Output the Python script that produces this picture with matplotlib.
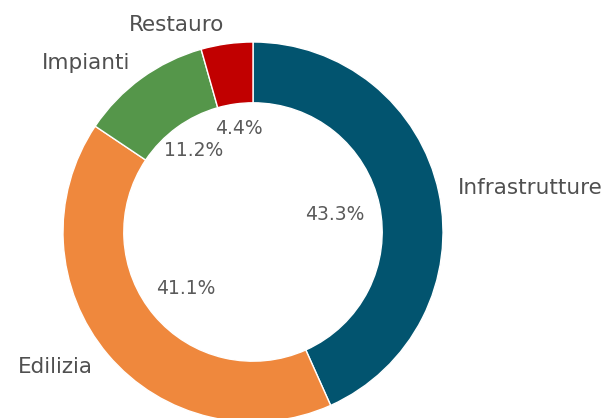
import matplotlib.pyplot as plt
import numpy as np

# dati
categorie = ['Infrastrutture', 'Edilizia', 'Impianti', 'Restauro']
valori = [43.3, 41.1, 11.2, 4.4]
colori = ['#02546f', '#ef883d', '#55964a', '#c10000']

plt.rcParams['font.family'] = ['DejaVu Sans']

fig = plt.figure(figsize=(6.11, 4.18), dpi=100)
ax = fig.add_axes([0, 0, 1, 1])

# centro e raggio in pixel
cx, cy, R = 253, 418 - 232, 190
wedges, texts, autotexts = ax.pie(
    valori, labels=categorie, colors=colori, startangle=90, counterclock=False,
    center=(cx, cy), radius=R, labeldistance=1.1, autopct='%.1f%%', pctdistance=0.5,
    wedgeprops=dict(width=R * 0.32, edgecolor='white', linewidth=1),
    frame=True)

for w, t in zip(wedges, texts):
    ang = np.deg2rad((w.theta1 + w.theta2) / 2)
    t.set_ha('left' if np.cos(ang) > 0 else 'right')
    t.set_fontsize(15.5)
    t.set_color('#505050')

# distanze delle percentuali
dist_pct = [0.44, 0.46, 0.53, 0.55]
for w, t, d in zip(wedges, autotexts, dist_pct):
    ang = np.deg2rad((w.theta1 + w.theta2) / 2)
    t.set_position((cx + d * R * np.cos(ang), cy + d * R * np.sin(ang)))
    t.set_fontsize(13.5)
    t.set_color('#5a5a5a')

ax.set_xlim(0, 611)
ax.set_ylim(0, 418)
ax.set_aspect('equal')
ax.axis('off')

plt.savefig('out.png', dpi=100)
